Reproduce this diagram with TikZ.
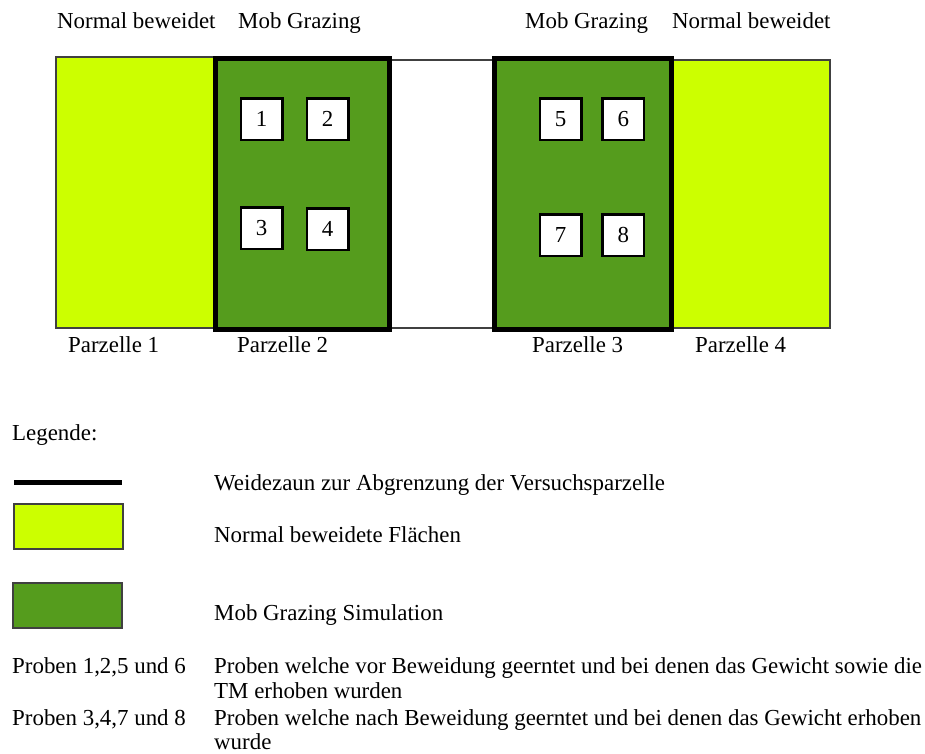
\documentclass[tikz,border=0pt]{standalone}
\usepackage{fontspec}
\setmainfont{Liberation Serif}
\usetikzlibrary{positioning}
\definecolor{lightgrass}{HTML}{CCFF00}
\definecolor{mobgreen}{HTML}{559C1D}
\tikzset{
  txt/.style={anchor=base west, inner sep=0pt, font=\fontsize{22.9}{25}\selectfont},
  sample/.style={draw, line width=2.5pt, fill=white, minimum size=41.5pt,
                 inner sep=0pt, font=\fontsize{22.9}{25}\selectfont},
  fence/.style={line width=5pt},
  thinedge/.style={draw=black!75, line width=1.2pt}
}

\begin{document}
\begin{tikzpicture}[x=1pt, y=-1pt]
    \useasboundingbox (0,0) rectangle (925,753);
    % Vertical extent of the parcels
    \def\ytop{57}
    \def\ybot{328}

    % Normally grazed parcels (1 and 4)
    \filldraw[fill=lightgrass, thinedge] (56,\ytop) rectangle (215,\ybot);
    \filldraw[fill=lightgrass, thinedge] (672,60) rectangle (830,\ybot);

    % White strip between the fenced parcels
    \draw[thinedge] (390,60) -- (494,60);
    \draw[thinedge] (390,\ybot) -- (494,\ybot);

    % Mob grazing parcels (2 and 3), fenced
    \fill[mobgreen] (215,58) rectangle (389,329);
    \draw[fence] (215,58) rectangle (389,329);
    \fill[mobgreen] (494,58) rectangle (671,329);
    \draw[fence] (494,58) rectangle (671,329);

    % Sample plots
    \foreach \n/\x/\y in {1/261.5/119, 2/327.5/119, 3/261.5/228, 4/327.5/229,
                          5/560.5/119, 6/623.3/119, 7/560.5/235, 8/623.3/235}
      \node[sample] (s\n) at (\x,\y) {\n};

    % Headings above the parcels
    \node[txt] (normal-l) at (57,28) {Normal beweidet};
    \node[txt] (mob-l) at (238,28) {Mob Grazing};
    \node[txt] (mob-r) at (525,28) {Mob Grazing};
    \node[txt] (normal-r) at (672,28) {Normal beweidet};

    % Parcel names
    \node[txt] (p1) at (68,352) {Parzelle 1};
    \node[txt] (p2) at (237,352) {Parzelle 2};
    \node[txt] (p3) at (532,352) {Parzelle 3};
    \node[txt] (p4) at (695,352) {Parzelle 4};

    % Legend
    \node[txt] (legend) at (12,440) {Legende:};
    \draw[fence] (14,482) -- (122,482);
    \filldraw[fill=lightgrass, thinedge] (14,504) rectangle (123,549);
    \filldraw[fill=mobgreen, thinedge] (13,583) rectangle (122,628);
    \node[txt] (l-fence) at (214,490) {Weidezaun zur Abgrenzung der Versuchsparzelle};
    \node[txt] (l-normal) at (214,542) {Normal beweidete Flächen};
    \node[txt] (l-mob) at (214,620) {Mob Grazing Simulation};

    % Sample explanation
    \node[txt] (pr-a) at (12,673) {Proben 1,2,5 und 6};
    \node[txt] (pr-a-txt) at (214,673) {Proben welche vor Beweidung geerntet und bei denen das Gewicht sowie die};
    \node[txt] (pr-a-txt2) at (214,698) {TM erhoben wurden};
    \node[txt] (pr-b) at (12,725) {Proben 3,4,7 und 8};
    \node[txt] (pr-b-txt) at (214,725) {Proben welche nach Beweidung geerntet und bei denen das Gewicht erhoben};
    \node[txt] (pr-b-txt2) at (214,749) {wurde};
\end{tikzpicture}
\end{document}
